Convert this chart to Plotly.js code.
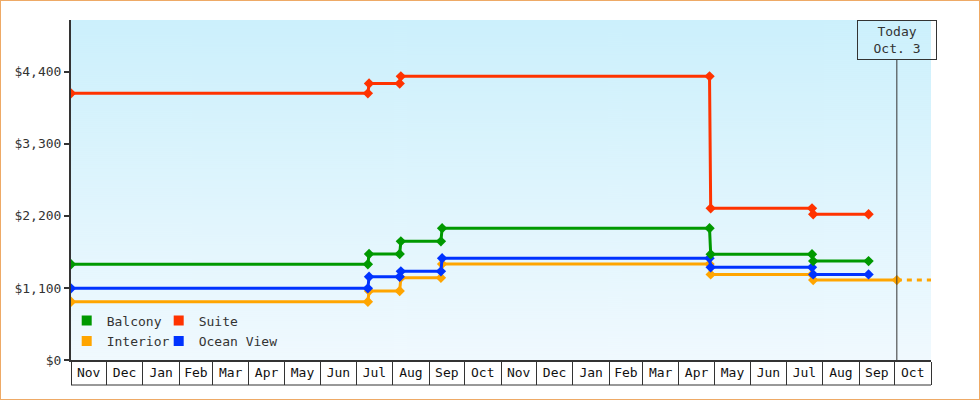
<!DOCTYPE html>
<html><head><meta charset="utf-8">
<script src="https://cdn.plot.ly/plotly-3.0.1.min.js"></script>
<style>
body{margin:0;background:#fff}
#wrap{position:relative;width:980px;height:400px}
#chart{width:980px;height:400px}
#frame{position:absolute;left:0;top:0;width:980px;height:400px;box-sizing:border-box;border:1px solid #eeaa66;pointer-events:none}
</style>
</head><body>
<div id="wrap"><div id="chart"></div><div id="frame"></div></div>
<script>
// ---- data ----
const suiteDates = ["2012-11-01","2013-07-11","2013-07-12","2013-08-07","2013-08-08","2014-04-27","2014-04-28","2014-07-23","2014-07-24","2014-09-09"];
const suitePrices = [4070,4070,4220,4220,4330,4330,2315,2315,2225,2225];

const balconyDates = ["2012-11-01","2013-07-11","2013-07-12","2013-08-07","2013-08-08","2013-09-11","2013-09-12","2014-04-27","2014-04-28","2014-07-23","2014-07-24","2014-09-09"];
const balconyPrices = [1462,1462,1617,1617,1811,1811,2012,2012,1614,1614,1510,1510];

const oceanDates = ["2012-11-01","2013-07-11","2013-07-12","2013-08-07","2013-08-08","2013-09-11","2013-09-12","2014-04-27","2014-04-28","2014-07-23","2014-07-24","2014-09-09"];
const oceanPrices = [1094,1094,1271,1271,1353,1353,1553,1553,1414,1414,1307,1307];

const interiorDates = ["2012-11-01","2013-07-11","2013-07-12","2013-08-07","2013-08-08","2013-09-11","2013-09-12","2014-04-27","2014-04-28","2014-07-23","2014-07-24","2014-10-03"];
const interiorPrices = [889,889,1053,1053,1256,1256,1464,1464,1307,1307,1220,1220];

const interiorFutureDates = ["2014-10-03","2014-11-01"];
const interiorFuturePrices = [1220,1220];

const todayDate = "2014-10-03";
const todayLabel = "Today<br>Oct. 3";

const xRange = ["2012-11-01","2014-11-01"];
const yTicks = [0,1100,2200,3300,4400];
const yTickLabels = ["$0","$1,100","$2,200","$3,300","$4,400"];
const yMax = 5190;

const seriesNames = ["Balcony","Suite","Interior","Ocean View"];
const seriesColors = {"Balcony":"#009900","Suite":"#ff3300","Interior":"#ffa500","Ocean View":"#0033ff"};

// ---- background gradient ----
const cv = document.createElement('canvas');
cv.width = 4; cv.height = 340;
const ctx = cv.getContext('2d');
const g = ctx.createLinearGradient(0,0,0,340);
g.addColorStop(0,'#ccf0fc');
g.addColorStop(1,'#f0f9fe');
ctx.fillStyle = g; ctx.fillRect(0,0,4,340);
const bgURL = cv.toDataURL();

const FONT = "DejaVu Sans Mono, monospace";

function stepTrace(name, xs, ys){
  return {x: xs, y: ys, type:'scatter', mode:'lines+markers', name: name, showlegend:false,
    line:{color: seriesColors[name], width:3},
    marker:{symbol:'diamond', size:8, color: seriesColors[name]}, hoverinfo:'x+y'};
}
function legendTrace(name, legendId, w){
  return {x:[null], y:[null], type:'scatter', mode:'markers', name:name, legend: legendId,
    legendwidth: w,
    marker:{symbol:'square', size:10, color: seriesColors[name], line:{width:0}}};
}

const traces = [
  stepTrace("Interior", interiorDates, interiorPrices),
  {x: interiorFutureDates, y: interiorFuturePrices, type:'scatter', mode:'lines', showlegend:false,
   line:{color: seriesColors["Interior"], width:3, dash:'5px,5px'}, hoverinfo:'skip'},
  stepTrace("Ocean View", oceanDates, oceanPrices),
  stepTrace("Balcony", balconyDates, balconyPrices),
  stepTrace("Suite", suiteDates, suitePrices),
  legendTrace(seriesNames[0], 'legend', 47),
  legendTrace(seriesNames[1], 'legend', 100),
  legendTrace(seriesNames[2], 'legend2', 47),
  legendTrace(seriesNames[3], 'legend2', 100)
];

const legendCommon = {orientation:'h', xanchor:'left', yanchor:'middle', bgcolor:'rgba(0,0,0,0)',
  borderwidth:0, font:{family:FONT, size:13, color:'#333'},
  traceorder:'normal', itemclick:false, itemdoubleclick:false};

const layout = {
  width:980, height:400,
  margin:{l:71, r:49, t:20, b:40, pad:0},
  paper_bgcolor:'#ffffff',
  plot_bgcolor:'#e2f5fd',
  font:{family:FONT, size:13, color:'#333'},
  images:[{source:bgURL, xref:'paper', yref:'paper', x:0, y:1, sizex:1, sizey:1,
    xanchor:'left', yanchor:'top', sizing:'stretch', layer:'below'}],
  xaxis:{type:'date', range:xRange, tickmode:'linear', tick0:xRange[0], dtick:'M1',
    ticklabelmode:'period', tickformat:'%b', ticks:'outside', ticklen:23, tickwidth:1,
    tickcolor:'#333', ticklabelstandoff:-24,
    showline:true, linecolor:'#333', linewidth:2, showgrid:false, zeroline:false,
    tickfont:{family:FONT, size:13, color:'#111'}, fixedrange:true},
  yaxis:{range:[0,yMax], tickmode:'array', tickvals:yTicks, ticktext:yTickLabels,
    ticks:'outside', ticklen:5, tickwidth:2, tickcolor:'#333',
    showline:true, linecolor:'#333', linewidth:2, showgrid:false, zeroline:false,
    tickfont:{family:FONT, size:13, color:'#333'}, fixedrange:true},
  legend:Object.assign({x:-0.005, y:0.116}, legendCommon),
  legend2:Object.assign({x:-0.005, y:0.056}, legendCommon),
  shapes:[{type:'line', xref:'paper', yref:'paper', x0:0, x1:1, y0:-25/340, y1:-25/340,
    line:{color:'#333', width:1}}],
  annotations:[{x:todayDate, y:0, xref:'x', yref:'y', text:todayLabel, showarrow:true,
    arrowhead:0, arrowwidth:1, arrowcolor:'#333', ax:0, ay:-320, axref:'pixel', ayref:'pixel',
    standoff:0, startstandoff:0,
    font:{family:FONT, size:13, color:'#333'}, bordercolor:'#333', borderwidth:1, borderpad:1,
    width:76, height:36, align:'center', valign:'middle', bgcolor:'rgba(0,0,0,0)'}],
  hovermode:'closest'
};

Plotly.newPlot('chart', traces, layout, {displayModeBar:false, staticPlot:false});
</script>
</body></html>
